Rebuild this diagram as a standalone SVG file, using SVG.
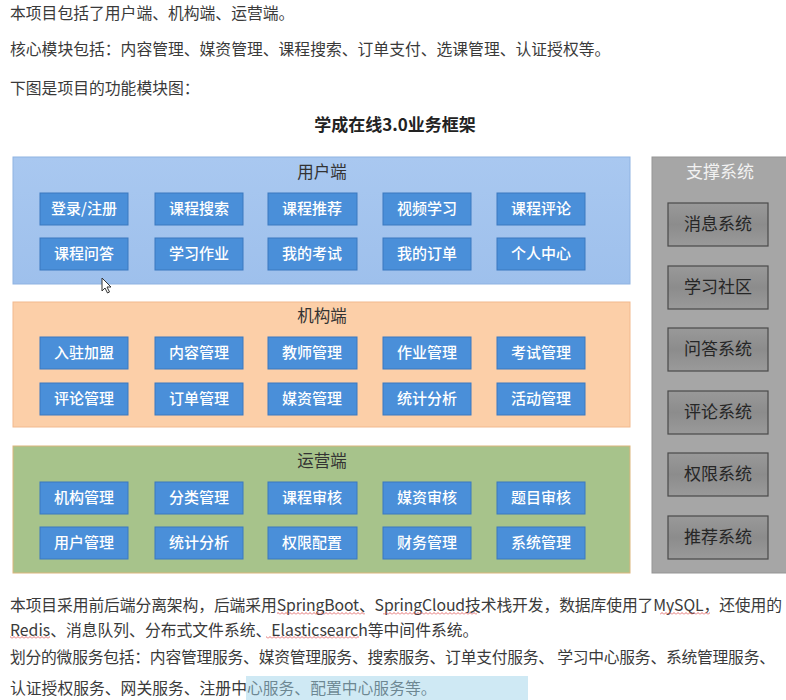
<svg xmlns="http://www.w3.org/2000/svg" width="786" height="700" viewBox="0 0 786 700">
<defs>
<linearGradient id="gBlue" x1="0" y1="0" x2="0" y2="1"><stop offset="0" stop-color="#a9c8f0"/><stop offset="1" stop-color="#9ec0ec"/></linearGradient>
<linearGradient id="gGrayBtn" x1="0" y1="0" x2="0" y2="1"><stop offset="0" stop-color="#999999"/><stop offset="0.5" stop-color="#8c8c8c"/><stop offset="1" stop-color="#9a9a9a"/></linearGradient>
<pattern id="wave" width="4" height="3" patternUnits="userSpaceOnUse"><path d="M0,2.5 L2,0.5 L4,2.5" stroke="#e06060" stroke-width="0.9" fill="none"/></pattern>
<style>
.body{font-family:"Noto Sans CJK SC","Noto Sans",sans-serif;font-size:15.8px;fill:#3a3a3a}
.title{font-family:"Noto Sans CJK SC",sans-serif;font-size:17px;font-weight:bold;fill:#222}
.ptitle{font-family:"Noto Sans CJK SC",sans-serif;font-size:16.5px;fill:#333;text-anchor:middle}
.btn rect{fill:#4a8fd9;stroke:#3a78bf;stroke-width:1}
.btn text{font-family:"Noto Sans CJK SC",sans-serif;font-size:15px;fill:#ffffff;text-anchor:middle;font-weight:500}
.gbtn rect{fill:url(#gGrayBtn);stroke:#4a4a4a;stroke-width:1.2}
.gbtn text{font-family:"Noto Sans CJK SC",sans-serif;font-size:17px;fill:#262626;text-anchor:middle}
.sq{fill:url(#wave)}
</style>
</defs>
<rect width="786" height="700" fill="#ffffff"/>

<g id="intro">
<text class="body" x="10" y="19">本项目包括了用户端、机构端、运营端。</text>
<text class="body" x="10" y="55">核心模块包括：内容管理、媒资管理、课程搜索、订单支付、选课管理、认证授权等。</text>
<text class="body" x="10" y="94">下图是项目的功能模块图：</text>
</g>

<text class="title" x="395" y="131" text-anchor="middle">学成在线3.0业务框架</text>

<g id="panel-user">
<rect x="13" y="157" width="617" height="127" fill="url(#gBlue)" stroke="#8fb3e2" stroke-width="1"/>
<text class="ptitle" x="322" y="178">用户端</text>
</g>
<g id="panel-org">
<rect x="13" y="302" width="617" height="125" fill="#fccfa8" stroke="#f2b98e" stroke-width="1"/>
<text class="ptitle" x="322" y="322">机构端</text>
</g>
<g id="panel-ops">
<rect x="13" y="446" width="617" height="127" fill="#a7c38b" stroke="#dcb57c" stroke-width="1"/>
<text class="ptitle" x="322" y="467">运营端</text>
</g>
<g id="panel-support">
<rect x="652" y="157" width="140" height="416" fill="#a6a6a6" stroke="#959595" stroke-width="1"/>
<text x="720" y="178" font-family="Noto Sans CJK SC, sans-serif" font-size="17" fill="#f2f2f2" text-anchor="middle">支撑系统</text>
</g>

<g id="user-nodes">
<g class="btn" id="u1"><rect x="40" y="193" width="88" height="32"/><text x="84" y="214">登录/注册</text></g>
<g class="btn" id="u2"><rect x="155" y="193" width="88" height="32"/><text x="199" y="214">课程搜索</text></g>
<g class="btn" id="u3"><rect x="268" y="193" width="89" height="32"/><text x="312" y="214">课程推荐</text></g>
<g class="btn" id="u4"><rect x="383" y="193" width="88" height="32"/><text x="427" y="214">视频学习</text></g>
<g class="btn" id="u5"><rect x="497" y="193" width="88" height="32"/><text x="541" y="214">课程评论</text></g>
<g class="btn" id="u6"><rect x="40" y="238" width="88" height="32"/><text x="84" y="259">课程问答</text></g>
<g class="btn" id="u7"><rect x="155" y="238" width="88" height="32"/><text x="199" y="259">学习作业</text></g>
<g class="btn" id="u8"><rect x="268" y="238" width="89" height="32"/><text x="312" y="259">我的考试</text></g>
<g class="btn" id="u9"><rect x="383" y="238" width="88" height="32"/><text x="427" y="259">我的订单</text></g>
<g class="btn" id="u10"><rect x="497" y="238" width="88" height="32"/><text x="541" y="259">个人中心</text></g>
</g>

<g id="org-nodes">
<g class="btn" id="o1"><rect x="40" y="337" width="88" height="32"/><text x="84" y="358">入驻加盟</text></g>
<g class="btn" id="o2"><rect x="155" y="337" width="88" height="32"/><text x="199" y="358">内容管理</text></g>
<g class="btn" id="o3"><rect x="268" y="337" width="89" height="32"/><text x="312" y="358">教师管理</text></g>
<g class="btn" id="o4"><rect x="383" y="337" width="88" height="32"/><text x="427" y="358">作业管理</text></g>
<g class="btn" id="o5"><rect x="497" y="337" width="88" height="32"/><text x="541" y="358">考试管理</text></g>
<g class="btn" id="o6"><rect x="40" y="383" width="88" height="32"/><text x="84" y="404">评论管理</text></g>
<g class="btn" id="o7"><rect x="155" y="383" width="88" height="32"/><text x="199" y="404">订单管理</text></g>
<g class="btn" id="o8"><rect x="268" y="383" width="89" height="32"/><text x="312" y="404">媒资管理</text></g>
<g class="btn" id="o9"><rect x="383" y="383" width="88" height="32"/><text x="427" y="404">统计分析</text></g>
<g class="btn" id="o10"><rect x="497" y="383" width="88" height="32"/><text x="541" y="404">活动管理</text></g>
</g>

<g id="ops-nodes">
<g class="btn" id="p1"><rect x="40" y="482" width="88" height="32"/><text x="84" y="503">机构管理</text></g>
<g class="btn" id="p2"><rect x="155" y="482" width="88" height="32"/><text x="199" y="503">分类管理</text></g>
<g class="btn" id="p3"><rect x="268" y="482" width="89" height="32"/><text x="312" y="503">课程审核</text></g>
<g class="btn" id="p4"><rect x="383" y="482" width="88" height="32"/><text x="427" y="503">媒资审核</text></g>
<g class="btn" id="p5"><rect x="497" y="482" width="88" height="32"/><text x="541" y="503">题目审核</text></g>
<g class="btn" id="p6"><rect x="40" y="527" width="88" height="32"/><text x="84" y="548">用户管理</text></g>
<g class="btn" id="p7"><rect x="155" y="527" width="88" height="32"/><text x="199" y="548">统计分析</text></g>
<g class="btn" id="p8"><rect x="268" y="527" width="89" height="32"/><text x="312" y="548">权限配置</text></g>
<g class="btn" id="p9"><rect x="383" y="527" width="88" height="32"/><text x="427" y="548">财务管理</text></g>
<g class="btn" id="p10"><rect x="497" y="527" width="88" height="32"/><text x="541" y="548">系统管理</text></g>
</g>

<g id="support-nodes">
<g class="gbtn" id="s1"><rect x="668" y="203" width="100" height="43"/><text x="718" y="230">消息系统</text></g>
<g class="gbtn" id="s2"><rect x="668" y="266" width="100" height="43"/><text x="718" y="293">学习社区</text></g>
<g class="gbtn" id="s3"><rect x="668" y="328" width="100" height="43"/><text x="718" y="355">问答系统</text></g>
<g class="gbtn" id="s4"><rect x="668" y="391" width="100" height="43"/><text x="718" y="418">评论系统</text></g>
<g class="gbtn" id="s5"><rect x="668" y="453" width="100" height="43"/><text x="718" y="480">权限系统</text></g>
<g class="gbtn" id="s6"><rect x="668" y="516" width="100" height="43"/><text x="718" y="543">推荐系统</text></g>
</g>

<g id="connectors"></g>

<path d="M102,278 L102,291 L105,288 L107.5,293 L109.5,292 L107,287 L111,287 Z" fill="#ffffff" stroke="#333" stroke-width="1"/>

<g id="outro">
<text class="body" x="10" y="611" textLength="772" lengthAdjust="spacing">本项目采用前后端分离架构，后端采用SpringBoot、SpringCloud技术栈开发，数据库使用了MySQL，还使用的</text>
<text class="body" x="10" y="636">Redis、消息队列、分布式文件系统、Elasticsearch等中间件系统。</text>
<text class="body" x="10" y="663" textLength="765" lengthAdjust="spacing">划分的微服务包括：内容管理服务、媒资管理服务、搜索服务、订单支付服务、 学习中心服务、系统管理服务、</text>
<text class="body" x="10" y="694">认证授权服务、网关服务、注册中心服务、配置中心服务等。</text>
</g>
<rect class="sq" x="277" y="612" width="88" height="3"/>
<rect class="sq" x="383" y="612" width="94" height="3"/>
<rect class="sq" x="660" y="612" width="50" height="3"/>
<rect class="sq" x="10" y="636" width="40" height="3"/>
<rect class="sq" x="266" y="636" width="93" height="3"/>

<rect x="246" y="676" width="282" height="24" fill="#9fd3ea" opacity="0.5"/>
</svg>
